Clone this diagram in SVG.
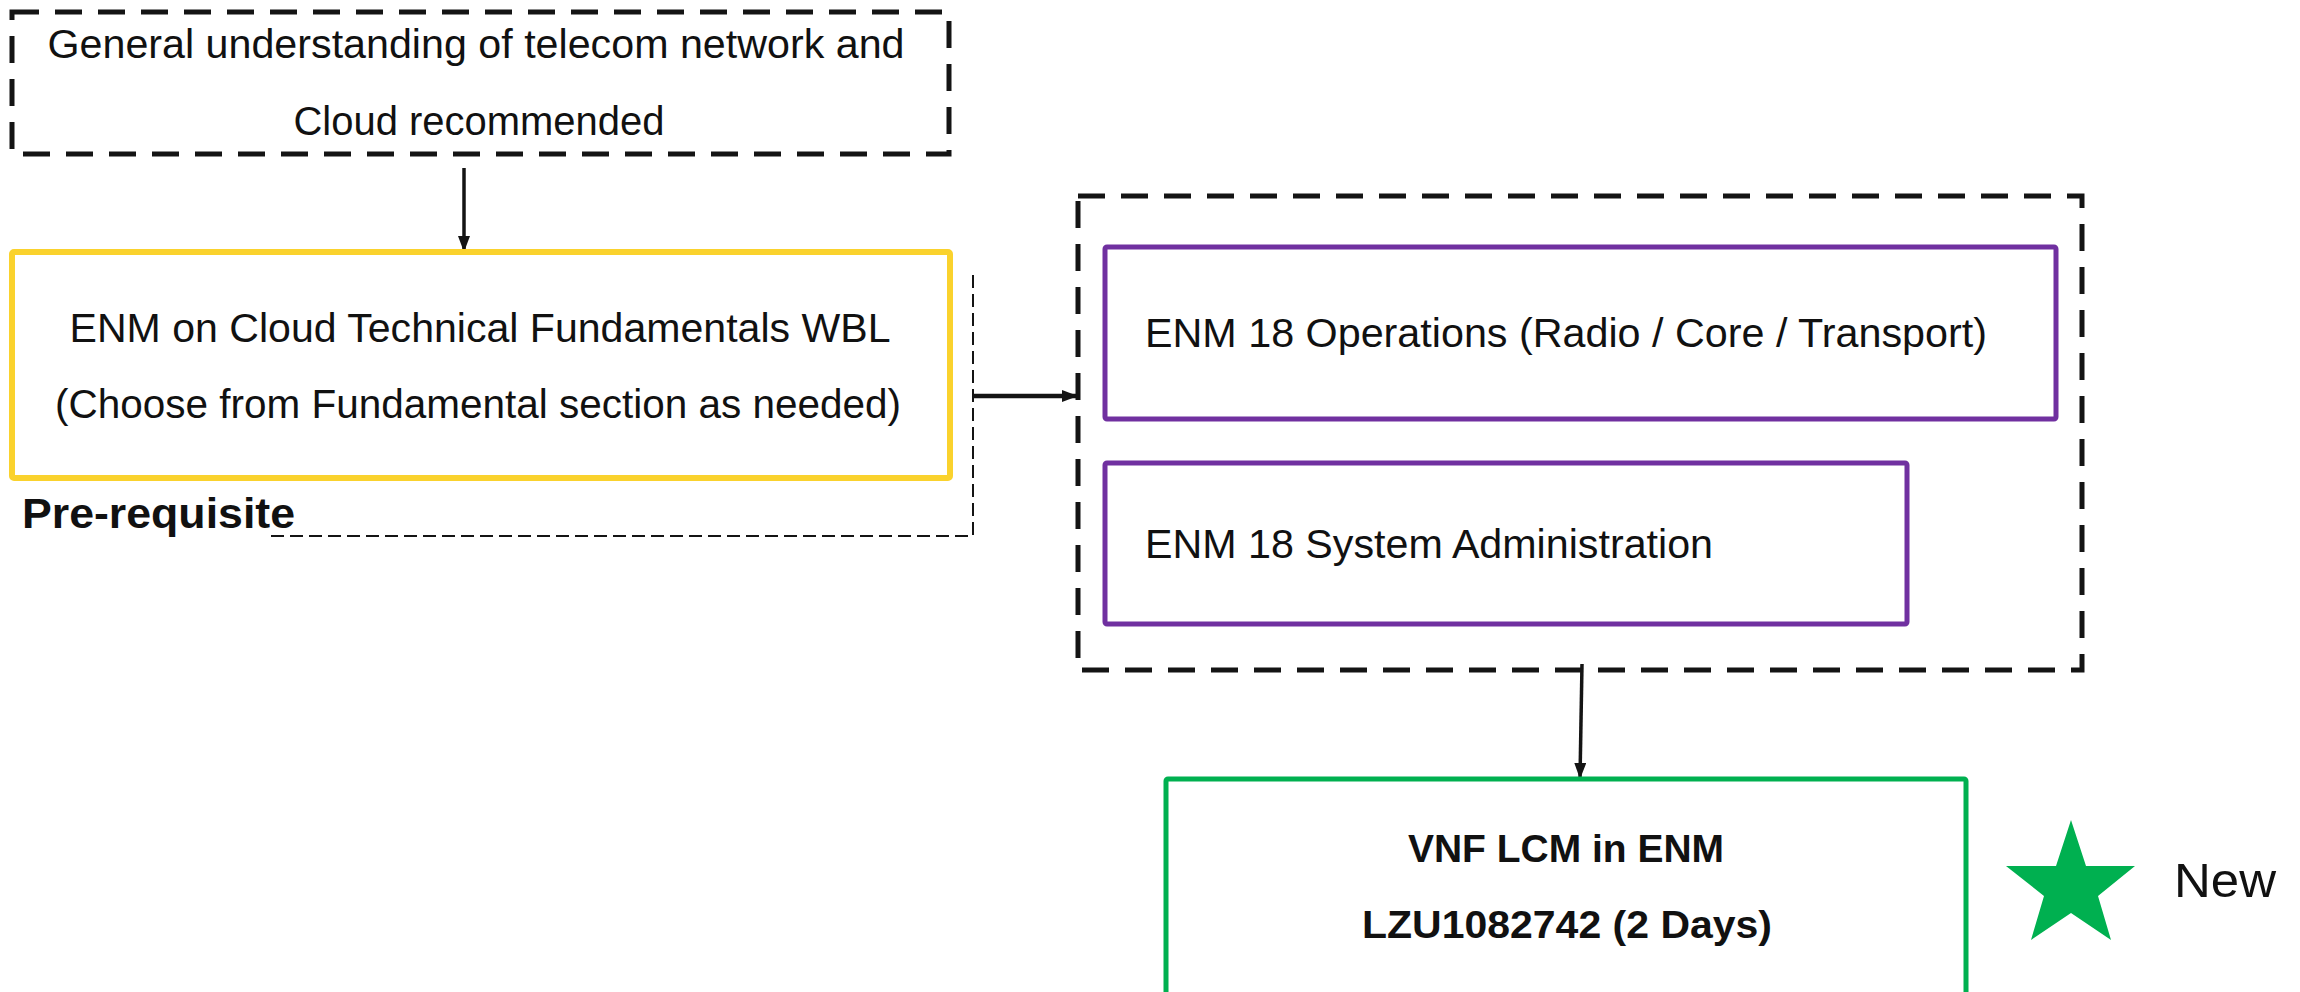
<svg xmlns="http://www.w3.org/2000/svg" width="2300" height="992" viewBox="0 0 2300 992">
<style>
text{font-family:"Liberation Sans",Arial,sans-serif;fill:#111;}
.t{font-size:40px;}
.b{font-size:38px;font-weight:bold;}
.dash{fill:none;stroke:#141414;stroke-width:5;stroke-dasharray:27 16;}
.yel{fill:#fff;stroke:#FAD22D;stroke-width:6;}
.pur{fill:#fff;stroke:#7030A0;stroke-width:5;}
.grn{fill:#fff;stroke:#00B050;stroke-width:5;}
.conn{fill:none;stroke:#141414;}
</style>
<defs>
<marker id="ah" markerUnits="userSpaceOnUse" markerWidth="16" markerHeight="12" refX="16" refY="6" orient="auto">
<path d="M0,0 L16,6 L0,12 z" fill="#141414"/>
</marker>
</defs>
<rect width="2300" height="992" fill="#fff"/>
<g id="connectors">
<path class="conn" d="M271,536 H973 V270" stroke-width="2" stroke-dasharray="13 6"/>
<path class="conn" d="M464,168 V252" stroke-width="3.5" marker-end="url(#ah)"/>
<path class="conn" d="M973,396 H1078" stroke-width="4.5" marker-end="url(#ah)"/>
<path class="conn" d="M1582,664 L1580,779" stroke-width="3.5" marker-end="url(#ah)"/>
</g>
<g id="node-general">
<rect class="dash" x="12" y="12" width="937" height="142"/>
<text class="t" x="476" y="58" text-anchor="middle" textLength="857" lengthAdjust="spacingAndGlyphs">General understanding of telecom network and</text>
<text class="t" x="479" y="135" text-anchor="middle" textLength="371" lengthAdjust="spacingAndGlyphs">Cloud recommended</text>
</g>
<g id="node-fundamentals">
<rect class="yel" x="12" y="252" width="938" height="226" rx="2"/>
<text class="t" x="480" y="342" text-anchor="middle" textLength="821" lengthAdjust="spacingAndGlyphs">ENM on Cloud Technical Fundamentals WBL</text>
<text class="t" x="478" y="418" text-anchor="middle" textLength="846" lengthAdjust="spacingAndGlyphs">(Choose from Fundamental section as needed)</text>
</g>
<g id="label-prereq">
<text x="22" y="528" font-size="42" font-weight="bold" textLength="273" lengthAdjust="spacingAndGlyphs">Pre-requisite</text>
</g>
<g id="node-group">
<rect class="dash" x="1078" y="196" width="1004" height="474"/>
</g>
<g id="node-operations">
<rect class="pur" x="1105" y="247" width="951" height="172" rx="2"/>
<text class="t" x="1145" y="347" textLength="842" lengthAdjust="spacingAndGlyphs">ENM 18 Operations (Radio / Core / Transport)</text>
</g>
<g id="node-sysadmin">
<rect class="pur" x="1105" y="463" width="802" height="161" rx="2"/>
<text class="t" x="1145" y="558" textLength="568" lengthAdjust="spacingAndGlyphs">ENM 18 System Administration</text>
</g>
<g id="node-vnf">
<rect class="grn" x="1166" y="779" width="800" height="240" rx="2"/>
<text class="b" x="1566" y="862" text-anchor="middle" textLength="316" lengthAdjust="spacingAndGlyphs">VNF LCM in ENM</text>
<text class="b" x="1567" y="938" text-anchor="middle" textLength="410" lengthAdjust="spacingAndGlyphs">LZU1082742 (2 Days)</text>
</g>
<g id="legend-new">
<polygon points="2071,820 2086,866 2135,866 2098,896 2111,940 2071,913 2031,940 2044,896 2006,866 2056,866" fill="#00B050"/>
<text x="2174" y="897" font-size="48" textLength="102" lengthAdjust="spacingAndGlyphs">New</text>
</g>
</svg>
